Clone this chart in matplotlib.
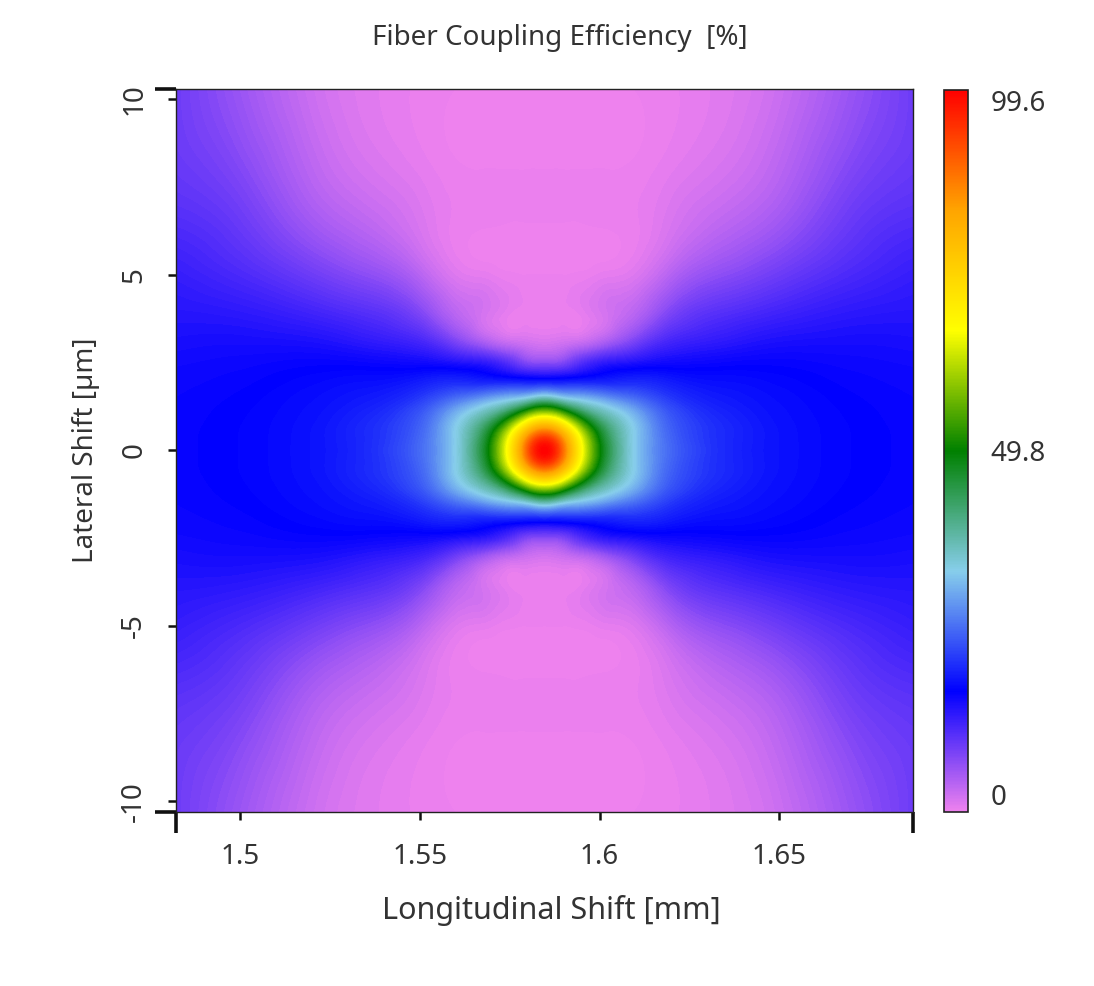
import numpy as np
import matplotlib
matplotlib.use("Agg")
import matplotlib.pyplot as plt
import matplotlib.tri as mtri
from matplotlib.colors import LinearSegmentedColormap, Normalize
from matplotlib.cm import ScalarMappable

# ---- data ----
lon_mm = [1.4822, 1.4997, 1.5197, 1.5347, 1.5497, 1.5597, 1.5672, 1.5747, 1.5797,
          1.5847, 1.5897, 1.5947, 1.6022, 1.6097, 1.6197, 1.6347, 1.6497, 1.6697, 1.6872]
lat_um = [-10.3, -8, -6.5, -5, -4, -3, -2.5, -2, -1.5, -1, -0.5, 0,
          0.5, 1, 1.5, 2, 2.5, 3, 4, 5, 6.5, 8, 10.3]

eff = [
    [9, 6, 2.5, 1.0, 0.3, 0, 0, 0, 0, 0, 0, 0, 0, 0, 0.3, 1.0, 2.5, 6, 9],
    [9.5, 7.6, 3.7, 1.8, 0.7, 0.1, 0, 0, 0, 0, 0, 0, 0, 0.1, 0.7, 1.8, 3.7, 7.6, 9.5],
    [11, 9.3, 5.5, 3.5, 1.5, 0.3, 0.1, 0, 0, 0, 0, 0, 0.1, 0.3, 1.5, 3.5, 5.5, 9.3, 11],
    [13, 11.5, 9, 7, 4, 1.2, 0.6, 0.1, 0, 0, 0, 0.1, 0.6, 1.2, 4, 7, 9, 11.5, 13],
    [14, 13.5, 12, 10.5, 7.5, 3.5, 2, 0.6, 0.3, 0.2, 0.3, 0.6, 2, 3.5, 7.5, 10.5, 12, 13.5, 14],
    [15, 15.2, 15, 14, 12.5, 9, 6, 3.5, 2.5, 2, 2.5, 3.5, 6, 9, 12.5, 14, 15, 15.2, 15],
    [15.5, 15.8, 16.2, 16, 15.5, 14.5, 13.5, 10.5, 7.5, 7, 7.5, 10.5, 13.5, 14.5, 15.5, 16, 16.2, 15.8, 15.5],
    [15.8, 16.2, 17, 17.5, 18.5, 19.5, 18.8, 18.2, 17.7, 17.5, 17.7, 18.2, 18.8, 19.5, 18.5, 17.5, 17, 16.2, 15.8],
    [16, 16.5, 17.5, 18.5, 21, 25, 28, 31, 33, 36, 33, 31, 28, 25, 21, 18.5, 17.5, 16.5, 16],
    [16.1, 16.7, 17.8, 19.5, 23.5, 31, 37, 47, 58, 64, 58, 47, 37, 31, 23.5, 19.5, 17.8, 16.7, 16.1],
    [16.2, 16.8, 18, 20, 24.5, 33, 43, 63, 80, 89, 80, 63, 43, 33, 24.5, 20, 18, 16.8, 16.2],
    [16.2, 16.8, 18, 20, 25, 33, 45, 68, 89, 99.6, 89, 68, 45, 33, 25, 20, 18, 16.8, 16.2],
    [16.2, 16.8, 18, 20, 24.5, 33, 43, 63, 80, 89, 80, 63, 43, 33, 24.5, 20, 18, 16.8, 16.2],
    [16.1, 16.7, 17.8, 19.5, 23.5, 31, 37, 47, 58, 64, 58, 47, 37, 31, 23.5, 19.5, 17.8, 16.7, 16.1],
    [16, 16.5, 17.5, 18.5, 21, 25, 28, 31, 33, 36, 33, 31, 28, 25, 21, 18.5, 17.5, 16.5, 16],
    [15.8, 16.2, 17, 17.5, 18.5, 19.5, 18.8, 18.2, 17.7, 17.5, 17.7, 18.2, 18.8, 19.5, 18.5, 17.5, 17, 16.2, 15.8],
    [15.5, 15.8, 16.2, 16, 15.5, 14.5, 13.5, 10.5, 7.5, 7, 7.5, 10.5, 13.5, 14.5, 15.5, 16, 16.2, 15.8, 15.5],
    [15, 15.2, 15, 14, 12.5, 9, 6, 3.5, 2.5, 2, 2.5, 3.5, 6, 9, 12.5, 14, 15, 15.2, 15],
    [14, 13.5, 12, 10.5, 7.5, 3.5, 2, 0.6, 0.3, 0.2, 0.3, 0.6, 2, 3.5, 7.5, 10.5, 12, 13.5, 14],
    [13, 11.5, 9, 7, 4, 1.2, 0.6, 0.1, 0, 0, 0, 0.1, 0.6, 1.2, 4, 7, 9, 11.5, 13],
    [11, 9.3, 5.5, 3.5, 1.5, 0.3, 0.1, 0, 0, 0, 0, 0, 0.1, 0.3, 1.5, 3.5, 5.5, 9.3, 11],
    [9.5, 7.6, 3.7, 1.8, 0.7, 0.1, 0, 0, 0, 0, 0, 0, 0, 0.1, 0.7, 1.8, 3.7, 7.6, 9.5],
    [9, 6, 2.5, 1.0, 0.3, 0, 0, 0, 0, 0, 0, 0, 0, 0, 0.3, 1.0, 2.5, 6, 9],
]

x_ticks = [1.5, 1.55, 1.6, 1.65]
x_ticklabels = ["1.5", "1.55", "1.6", "1.65"]
y_ticks = [-10, -5, 0, 5, 10]
y_ticklabels = ["-10", "-5", "0", "5", "10"]
cbar_ticks = [0, 49.8, 99.6]
cbar_ticklabels = ["0", "49.8", "99.6"]
cmap_colors = ["#EE82EE", "#0000FF", "#87CEEB", "#008000", "#FFFF00", "#FFA500", "#FF0000"]

title = "Fiber Coupling Efficiency  [%]"
xlabel = "Longitudinal Shift [mm]"
ylabel = "Lateral Shift [µm]"

# ---- drawing ----
plt.rcParams["font.family"] = ["Noto Sans", "DejaVu Sans"]
txt = "#333333"

fig = plt.figure(figsize=(10.94, 9.86), dpi=100)
fig.patch.set_facecolor("white")
ax = fig.add_axes([0.1609, 0.1765, 0.6737, 0.7333])

cmap = LinearSegmentedColormap.from_list("fce", cmap_colors, N=512)
norm = Normalize(vmin=cbar_ticks[0], vmax=cbar_ticks[-1])

# mesh of the read grid, split into triangles mirror-symmetrically about the peak,
# then smoothed by matplotlib's cubic triangulation refiner
Z = np.array(eff, dtype=float)
ny, nx = Z.shape
jc, ic = np.unravel_index(np.argmax(Z), Z.shape)
LON, LAT = np.meshgrid(lon_mm, lat_um)
tris = []
for j in range(ny - 1):
    for i in range(nx - 1):
        a = j * nx + i
        b = a + 1
        c = a + nx
        d = c + 1
        sxi = 1 if i >= ic else -1
        syj = 1 if j >= jc else -1
        if sxi * syj > 0:
            tris += [[a, b, c], [b, d, c]]
        else:
            tris += [[a, b, d], [a, d, c]]
sx = 100.0  # 0.01 mm and 1 µm get a similar size while refining
tri_s = mtri.Triangulation((LON.ravel() - lon_mm[0]) * sx, LAT.ravel(), np.array(tris))
interp = mtri.CubicTriInterpolator(tri_s, Z.ravel(), kind="min_E")
refiner = mtri.UniformTriRefiner(tri_s)
tri_r, z_r = refiner.refine_field(Z.ravel(), triinterpolator=interp, subdiv=3)
tri_p = mtri.Triangulation(tri_r.x / sx + lon_mm[0], tri_r.y, tri_r.triangles)

levels = np.linspace(0.0, 99.6, 250)
ax.tricontourf(tri_p, z_r, levels=levels, cmap=cmap, norm=norm,
               antialiased=False, extend="both")

ax.set_xlim(lon_mm[0], lon_mm[-1])
ax.set_ylim(lat_um[0], lat_um[-1])

ax.set_xticks(x_ticks)
ax.set_xticklabels(x_ticklabels)
ax.set_yticks(y_ticks)
ax.set_yticklabels(y_ticklabels, rotation=90, va="center")
ax.set_xticks([lon_mm[0], lon_mm[-1]], minor=True)
ax.set_yticks([lat_um[0], lat_um[-1]], minor=True)
ax.tick_params(which="major", length=6, width=1.8, color="#111111",
               labelsize=20, labelcolor=txt)
ax.tick_params(axis="x", which="major", pad=16)
ax.tick_params(axis="y", which="major", pad=14)
ax.tick_params(which="minor", length=15, width=2.6, color="#111111")
for s in ax.spines.values():
    s.set_linewidth(1.0)
    s.set_color("#222222")

ax.set_xlabel(xlabel, fontsize=22, color=txt)
ax.xaxis.set_label_coords(0.509, -0.136)
ax.xaxis.label.set_va("center")
ax.set_ylabel(ylabel, fontsize=20, color=txt)
ax.yaxis.set_label_coords(-0.122, 0.5)
ax.yaxis.label.set_va("center")
fig.text(0.512, 0.961, title, fontsize=20, color=txt, ha="center", va="center")

cax = fig.add_axes([0.8629, 0.1765, 0.0219, 0.7323])
cb = fig.colorbar(ScalarMappable(norm=norm, cmap=cmap), cax=cax)
cb.set_ticks(cbar_ticks)
cb.set_ticklabels(cbar_ticklabels)
cb.outline.set_linewidth(1.2)
cb.outline.set_edgecolor("#222222")
cax.tick_params(length=0, pad=16, labelsize=20, labelcolor=txt)
labs = cax.get_yticklabels()
labs[0].set_va("bottom")
labs[-1].set_va("top")

fig.savefig("out.png", dpi=100, facecolor="white")
